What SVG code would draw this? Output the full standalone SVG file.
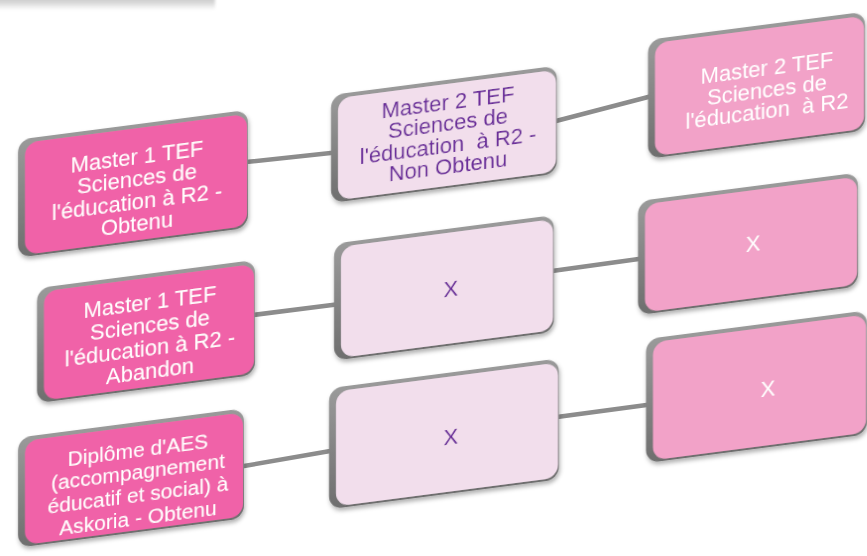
<svg xmlns="http://www.w3.org/2000/svg" width="867" height="556" viewBox="0 0 867 556">
<defs>
<style>
.f1{fill:#F062A8}
.f2{fill:#F2DEEC}
.f3{fill:#F2A2C8}
.side{fill:url(#sideG)}
.t{font-family:"Liberation Sans",Arial,sans-serif;font-size:22px;text-anchor:middle}
.w{fill:#ffffff}
.p{fill:#6B2C9A}
.conn{stroke:#8c8c8c;stroke-width:4.5;stroke-linecap:round;fill:none}
.hl{stroke:#b0b0b0;stroke-width:1.5;fill:none}
</style>
<linearGradient id="sideG" x1="0" y1="0" x2="0" y2="1">
<stop offset="0" stop-color="#9a9a9a"/>
<stop offset="1" stop-color="#6e6e6e"/>
</linearGradient>
<linearGradient id="band" x1="0" y1="0" x2="0" y2="1">
<stop offset="0" stop-color="#c4c4c4"/>
<stop offset="0.45" stop-color="#d6d6d6"/>
<stop offset="1" stop-color="#ffffff"/>
</linearGradient>
<filter id="sh" x="-10%" y="-10%" width="120%" height="130%">
<feDropShadow dx="1" dy="3" stdDeviation="2" flood-color="#000" flood-opacity="0.3"/>
</filter>
<filter id="bl"><feGaussianBlur stdDeviation="1.5"/></filter>
</defs>

<rect x="-5" y="-4" width="220" height="14" fill="url(#band)" filter="url(#bl)"/>

<g id="connectors">
<path class="conn" d="M246,162 L340,152"/>
<path class="conn" d="M556,121 L652,96"/>
<path class="conn" d="M253,315 L340,304"/>
<path class="conn" d="M552,271 L646,258"/>
<path class="conn" d="M244,466 L336,450"/>
<path class="conn" d="M557,417 L654,404"/>
</g>

<g transform="skewY(-7.4)">
<g id="nodeA" filter="url(#sh)">
<rect class="side" x="18" y="142" width="230" height="118" rx="13"/>
<rect class="f1" x="25" y="146" width="222" height="112" rx="13"/>
<text class="t w" x="137" y="182">Master 1 TEF<tspan x="137" dy="22.5">Sciences de</tspan><tspan x="137" dy="22.5">l'éducation à R2 -</tspan><tspan x="137" dy="22.5">Obtenu</tspan></text>
</g>
<g id="nodeB" filter="url(#sh)">
<rect class="side" x="331" y="138" width="226" height="108" rx="13"/>
<rect class="f2" x="338" y="142" width="218" height="102" rx="13"/>
<text class="t p" x="448" y="168" xml:space="preserve">Master 2 TEF<tspan x="448" dy="21.5">Sciences de</tspan><tspan x="448" dy="21.5">l'éducation  à R2 -</tspan><tspan x="448" dy="21.5">Non Obtenu</tspan></text>
</g>
<g id="nodeC" filter="url(#sh)">
<rect class="side" x="648" y="124" width="217" height="119" rx="13"/>
<rect class="f3" x="655" y="128" width="209" height="113" rx="13"/>
<text class="t w" x="767" y="175" xml:space="preserve">Master 2 TEF<tspan x="767" dy="21.7">Sciences de</tspan><tspan x="767" dy="21.7">l'éducation  à R2</tspan></text>
</g>
<g id="nodeD" filter="url(#sh)">
<rect class="side" x="37" y="293" width="218" height="115" rx="13"/>
<rect class="f1" x="44" y="297" width="210" height="109" rx="13"/>
<text class="t w" x="150" y="329.5">Master 1 TEF<tspan x="150" dy="22.8">Sciences de</tspan><tspan x="150" dy="22.8">l'éducation à R2 -</tspan><tspan x="150" dy="22.8">Abandon</tspan></text>
</g>
<g id="nodeE" filter="url(#sh)">
<rect class="side" x="334" y="287" width="220" height="117" rx="13"/>
<rect class="f2" x="341" y="291" width="212" height="111" rx="13"/>
<text class="t p" x="451" y="355">X</text>
</g>
<g id="nodeF" filter="url(#sh)">
<rect class="side" x="638" y="284" width="220" height="114" rx="13"/>
<rect class="f3" x="645" y="288" width="212" height="108" rx="13"/>
<text class="t w" x="753" y="349">X</text>
</g>
<g id="nodeG" filter="url(#sh)">
<rect class="side" x="329" y="431" width="230" height="121" rx="13"/>
<rect class="f2" x="336" y="435" width="222" height="115" rx="13"/>
<text class="t p" x="451" y="503">X</text>
</g>
<g id="nodeH" filter="url(#sh)">
<rect class="side" x="646" y="423" width="221" height="124" rx="13"/>
<rect class="f3" x="653" y="427" width="213" height="118" rx="13"/>
<text class="t w" x="768" y="496">X</text>
</g>
<g id="nodeI" filter="url(#sh)">
<rect class="side" x="18" y="440" width="226" height="110" rx="13"/>
<rect class="f1" x="25" y="444" width="218" height="104" rx="13"/>
<text class="t w" x="138" y="474.6" style="font-size:21px">Diplôme d'AES<tspan x="138" dy="22.8">(accompagnement</tspan><tspan x="138" dy="22.8">éducatif et social) à</tspan><tspan x="138" dy="22.8">Askoria - Obtenu</tspan></text>
</g>
</g>
</svg>
